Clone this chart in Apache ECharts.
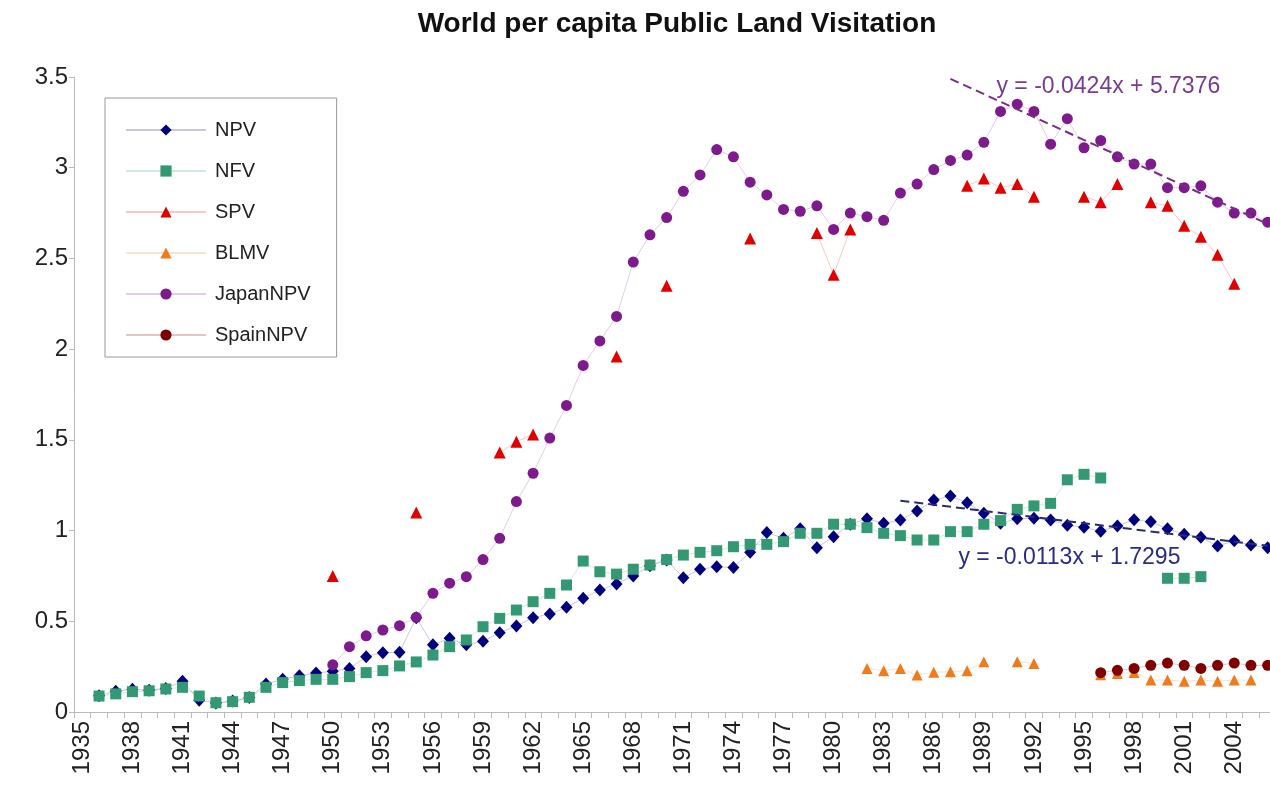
<!DOCTYPE html>
<html lang="en" style="height: 100%">
<head>
  <meta charset="utf-8">
</head>
<body style="height: 100%; margin: 0; background: #fff; overflow: hidden">
  <!-- plot runs past the right edge in the original, so the canvas is a bit wider than the window -->
  <div id="container" style="width: 1290px; height: 797px"></div>

  <script type="text/javascript" src="https://cdn.jsdelivr.net/npm/echarts@6/dist/echarts.min.js"></script>

  <script type="text/javascript">
    // years on the category axis
    var years = [];
    for (var y = 1935; y <= 2006; y++) years.push(String(y));

    // values, one per year starting 1935 (null = no point)
    var npv = [
      null, 0.09, 0.115, 0.125, 0.12, 0.13, 0.17, 0.065, 0.05, 0.06,
      0.08, 0.155, 0.18, 0.2, 0.215, 0.225, 0.24, 0.305, 0.327, 0.329,
      0.52, 0.37, 0.406, 0.37, 0.39, 0.437, 0.474, 0.52, 0.54, 0.577,
      0.627, 0.672, 0.706, 0.75, 0.806, 0.838, 0.74, 0.787, 0.8, 0.797,
      0.88, 0.99, 0.957, 1.01, 0.906, 0.966, 1.035, 1.065, 1.04, 1.058,
      1.108, 1.168, 1.19, 1.154, 1.095, 1.04, 1.065, 1.068, 1.058, 1.03,
      1.018, 0.996, 1.025, 1.06, 1.048, 1.01, 0.98, 0.963, 0.915, 0.944,
      0.92, 0.905
    ];
    var nfv = [
      null, 0.088, 0.1, 0.112, 0.117, 0.127, 0.136, 0.088, 0.051, 0.057,
      0.081, 0.136, 0.162, 0.173, 0.18, 0.18, 0.195, 0.217, 0.228, 0.254,
      0.276, 0.314, 0.36, 0.397, 0.47, 0.516, 0.562, 0.608, 0.654, 0.7,
      0.832, 0.773, 0.76, 0.787, 0.81, 0.84, 0.865, 0.88, 0.889, 0.911,
      0.924, 0.924, 0.939, 0.985, 0.985, 1.035, 1.035, 1.016, 0.985, 0.972,
      0.948, 0.948, 0.994, 0.994, 1.035, 1.055, 1.117, 1.136, 1.15, 1.28,
      1.31, 1.29, null, null, null, 0.737, 0.737, 0.746, null, null,
      null, null
    ];
    var spv = [
      null, null, null, null, null, null, null, null, null, null,
      null, null, null, null, null, 0.75, null, null, null, null,
      1.1, null, null, null, null, 1.43, 1.49, 1.53, null, null,
      null, null, 1.96, null, null, 2.35, null, null, null, null,
      2.61, null, null, null, 2.64, 2.41, 2.66, null, null, null,
      null, null, null, 2.9, 2.94, 2.89, 2.91, 2.84, null, null,
      2.84, 2.81, 2.91, null, 2.81, 2.79, 2.68, 2.62, 2.52, 2.36,
      null, null
    ];
    var blmv = [
      null, null, null, null, null, null, null, null, null, null,
      null, null, null, null, null, null, null, null, null, null,
      null, null, null, null, null, null, null, null, null, null,
      null, null, null, null, null, null, null, null, null, null,
      null, null, null, null, null, null, null, 0.24, 0.228, 0.24,
      0.204, 0.219, 0.222, 0.228, 0.277, null, 0.277, 0.268, null, null,
      null, 0.205, 0.212, 0.218, 0.176, 0.176, 0.17, 0.176, 0.17, 0.176,
      0.176, null
    ];
    var japanNpv = [
      null, null, null, null, null, null, null, null, null, null,
      null, null, null, null, null, 0.26, 0.36, 0.42, 0.452, 0.476,
      0.522, 0.654, 0.71, 0.746, 0.84, 0.957, 1.16, 1.316, 1.51, 1.69,
      1.91, 2.045, 2.18, 2.48, 2.63, 2.725, 2.87, 2.96, 3.1, 3.06,
      2.92, 2.85, 2.77, 2.76, 2.79, 2.66, 2.75, 2.73, 2.71, 2.86,
      2.91, 2.99, 3.04, 3.07, 3.14, 3.31, 3.35, 3.31, 3.13, 3.27,
      3.11, 3.15, 3.06, 3.02, 3.02, 2.89, 2.89, 2.9, 2.81, 2.75,
      2.75, 2.7
    ];
    var spainNpv = [
      null, null, null, null, null, null, null, null, null, null,
      null, null, null, null, null, null, null, null, null, null,
      null, null, null, null, null, null, null, null, null, null,
      null, null, null, null, null, null, null, null, null, null,
      null, null, null, null, null, null, null, null, null, null,
      null, null, null, null, null, null, null, null, null, null,
      null, 0.217, 0.23, 0.24, 0.257, 0.27, 0.257, 0.24, 0.257, 0.27,
      0.257, 0.257
    ];

    // trend lines: end points, plus the printed equations
    var japanTrend = [['1987', 3.49], ['2006', 2.69]];
    var japanTrendText = 'y = -0.0424x + 5.7376';
    var npvTrend = [['1984', 1.165], ['2006', 0.916]];
    var npvTrendText = 'y = -0.0113x + 1.7295';

    var FONT = '"Liberation Sans", Arial, sans-serif';

    var dom = document.getElementById('container');
    var myChart = echarts.init(dom, null, { renderer: 'canvas' });

    function pointSeries(name, data, symbol, size, color) {
      return {
        name: name,
        type: 'line',
        data: data,
        symbol: symbol,
        symbolSize: size,
        showAllSymbol: true,
        connectNulls: false,
        itemStyle: { color: color },
        lineStyle: { color: color, width: 1, opacity: 0.22 },
        emphasis: { disabled: true },
        animation: false
      };
    }

    function trendSeries(data, color, text, textColor, offset) {
      return {
        type: 'line',
        data: data,
        symbol: 'none',
        lineStyle: { color: color, width: 2, type: [9, 5] },
        silent: true,
        animation: false,
        z: 5,
        markPoint: {
          symbol: 'circle',
          symbolSize: 0,
          data: [{ coord: data[0], value: text }],
          label: {
            show: true,
            position: 'right',
            offset: offset,
            formatter: text,
            color: textColor,
            fontSize: 23,
            fontFamily: FONT
          }
        }
      };
    }

    var option = {
      backgroundColor: '#fff',
      title: {
        text: 'World per capita Public Land Visitation',
        left: 672,
        textAlign: 'center',
        top: 5,
        textStyle: { fontSize: 28, fontWeight: 'bold', color: '#111', fontFamily: FONT }
      },
      legend: {
        left: 105,
        top: 98,
        orient: 'vertical',
        data: ['NPV', 'NFV', 'SPV', 'BLMV', 'JapanNPV', 'SpainNPV'],
        itemWidth: 80,
        itemHeight: 14,
        itemGap: 21,
        padding: [22, 26, 12, 20],
        borderColor: '#999',
        borderWidth: 1,
        textStyle: { fontSize: 20, color: '#222', fontFamily: FONT, padding: [0, 0, 0, 4] }
      },
      grid: {
        left: 74,
        top: 77,
        width: 1202,
        height: 635,
        containLabel: false
      },
      xAxis: {
        type: 'category',
        data: years,
        boundaryGap: true,
        axisLine: { lineStyle: { color: '#bbb' } },
        axisTick: { show: true, interval: 0, length: 6, lineStyle: { color: '#bbb' } },
        axisLabel: {
          interval: 2,
          rotate: 90,
          margin: 9,
          fontSize: 24,
          color: '#222',
          fontFamily: FONT
        },
        splitLine: { show: false }
      },
      yAxis: {
        type: 'value',
        min: 0,
        max: 3.5,
        interval: 0.5,
        axisLine: { show: true, lineStyle: { color: '#bbb' } },
        axisTick: { show: true, length: 5, lineStyle: { color: '#bbb' } },
        axisLabel: { fontSize: 24, color: '#222', margin: 6, fontFamily: FONT },
        splitLine: { show: false }
      },
      series: [
        pointSeries('NPV', npv, 'diamond', [12, 13], '#00007f'),
        pointSeries('NFV', nfv, 'rect', 11, '#339973'),
        pointSeries('SPV', spv, 'triangle', 12, '#e00000'),
        pointSeries('BLMV', blmv, 'triangle', 11, '#f07a1c'),
        pointSeries('JapanNPV', japanNpv, 'circle', 11, '#7d1a8c'),
        pointSeries('SpainNPV', spainNpv, 'circle', 11, '#7f0000'),
        trendSeries(japanTrend, '#7a2d88', japanTrendText, '#7a3c90', [41, 8]),
        trendSeries(npvTrend, '#2a2a7a', npvTrendText, '#2b2b88', [53, 57])
      ]
    };

    myChart.setOption(option);
  </script>
</body>
</html>
